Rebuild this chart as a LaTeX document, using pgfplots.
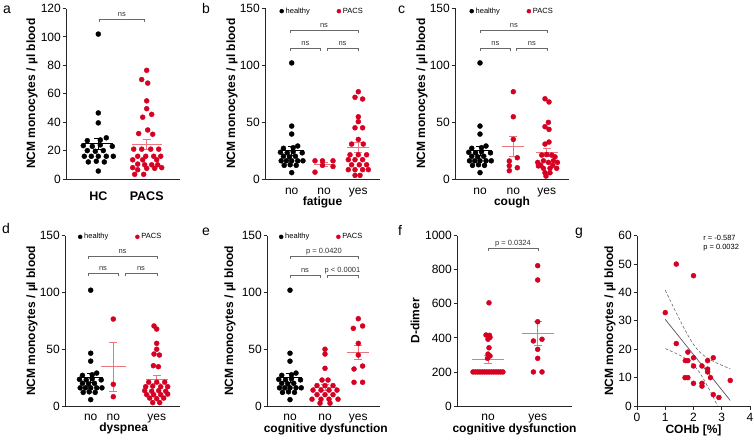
\documentclass[border=0pt]{standalone}
\usepackage{pgfplots}
\usepackage{pgfplotstable}
\pgfplotsset{compat=1.18}
\usepackage{fontspec}
\setmainfont{Liberation Sans}

\definecolor{ptred}{RGB}{214,0,34}
\definecolor{meanred}{RGB}{236,118,128}
\definecolor{brk}{RGB}{105,105,105}

% ---------- data: x offset within a group (px) and value ----------
\pgfplotstableread{
dx v
0 102
0 46.5
0 39.5
8 29
-11 27
2 27.5
-15 23.5
-6 23
2 24
14 23
-11 20
-3 19.5
5 20
-14 16
-7 16
0 16
8 16
15 16
-10 12
-2 12.5
6 12
0 5.6
}\healthy

\pgfplotstableread{
dx v
0 76.5
-5 70
1 67.5
0 55
0 49.5
5 45.5
-4 43.5
1 34.5
-8 32
6 31.5
-13 21
-5 21
4 21
12 21
-9 16
-1 16
7 16
14 16
-14 13.5
-4 13.5
10 13.5
-9 10.5
-2 10
5 10
11 10
-14 8
-9 6.5
0 7.5
8 7.5
15 8
-12 3.3
-3 3.3
}\pacsall

\pgfplotstableread{
dx v
-9 16
-9 6
-1.5 16
-1.5 12
9 16
9 11
}\fatno

\pgfplotstableread{
dx v
0 76.7
-3.3 71.8
4.3 70.3
0 54.7
0 50.4
-3.3 45
4.3 45
0 34.8
-6.7 30.7
5 30.7
-8.3 21.3
0 21.3
8.3 21.3
-10 17
-3.3 17
4.3 17
-6.7 12.5
1 12.5
8.3 12.5
-10 8.2
-3.3 8.2
4.3 8.2
10 8.2
-3.3 3.2
1.7 3.2
}\fatyes

\pgfplotstableread{
dx v
0 76.7
0 54.7
0 34.8
4 18.7
-4 15.8
-4 11.7
4 9.9
-4 7.3
}\coughno

\pgfplotstableread{
dx v
-1.7 70.5
2.3 67.7
1.7 49.8
-1.7 46
2.3 43.6
2.3 32.5
-1.7 30.7
-5 21
0 21.5
5 21
8.3 19.5
-9 14.6
-3.3 16
1.7 14.6
6.7 16
10.7 14.6
-6 12
6 12
-8.3 11.5
-3.3 9.4
3.3 9.4
10 9.4
-1.7 5.5
3.3 5.5
-0.7 2.6
}\coughyes

\pgfplotstableread{
dx v
0 76.6
0 19.1
0 8.2
}\dysno

\pgfplotstableread{
dx v
-2.7 70.5
0 67.8
0 55.2
0 50
-2.7 45.8
2.7 44.9
-3.3 35.5
1.7 34.6
-8 21
0 21
8 21
-11 17
-4 17.5
4 17
11 17
-12 13.5
-5 13
2 13.5
9 13
-10 10
-3 10
4 10
11 10.5
-7 7
0 6.5
7 7
-4 3
3 3
}\dysyes

\pgfplotstableread{
dx v
0 50
0 45.8
0 33.2
-3 22.9
3 22.9
-8 18
0 18
8 18
-12 14
-4 14
4 14
12 14
-8 10
0 10
8 10
-13 6
-4 6
4 6
13 6
-5 2.5
5 2.5
}\cogno

\pgfplotstableread{
dx v
0 76.9
-5 68.4
4.3 70.5
0 55.2
0 44.9
4.3 35.2
-4.3 32.6
-4.3 20.9
4.3 20.9
}\cogyes

\pgfplotstableread{
dx v
1 606
-2 417
1.5 415
2 403
0 392
1 342
0 305
2 294
-0.5 280
-15 200
-12.7 200
-10.4 200
-8.1 200
-5.8 200
-3.5 200
-1.2 200
1.1 200
3.4 200
5.7 200
8 200
10.3 200
12.6 200
14.9 200
}\ddno

\pgfplotstableread{
dx v
0 824
0 740
0 495
-4.3 382
4.3 392
0 333
0 280
-4.3 200
4.3 200
}\ddyes

\pgfplotstableread{
cohb ncm
1.39 50
2.0 45.9
1.0 32.9
1.39 22
1.8 19
2.0 17
2.7 17
1.71 16
1.8 16
2.5 16
2.0 14.1
2.3 14.1
2.5 13
2.5 12
2.6 10
1.7 10
1.8 10
2.0 8
2.3 8
2.3 7
3.3 9
2.7 4
2.9 3
}\cohb

% mean with SEM whiskers: centre, mean, sem, half width, colour
\newcommand{\msem}[5]{%
  \pgfmathsetmacro{\mxa}{#1-#4}\pgfmathsetmacro{\mxb}{#1+#4}%
  \pgfmathsetmacro{\mxc}{#1-4}\pgfmathsetmacro{\mxd}{#1+4}%
  \pgfmathsetmacro{\mya}{#2-#3}\pgfmathsetmacro{\myb}{#2+#3}%
  \addplot[#5, line width=0.8pt, forget plot] coordinates {(\mxa,#2) (\mxb,#2)};%
  \addplot[#5, line width=0.8pt, forget plot] coordinates {(#1,\mya) (#1,\myb)};%
  \addplot[#5, line width=0.8pt, forget plot] coordinates {(\mxc,\mya) (\mxd,\mya)};%
  \addplot[#5, line width=0.8pt, forget plot] coordinates {(\mxc,\myb) (\mxd,\myb)};%
}
% significance bracket: x1, x2, height, drop, label
\tikzset{brtext/.style={anchor=base, font=\fontsize{7.5}{8}\selectfont, text=black!80, inner sep=0pt},
  xlab/.style={anchor=base, inner sep=0pt, font=\bfseries\fontsize{12}{12}\selectfont}}
\newcommand{\bracket}[5]{%
  \pgfmathsetmacro{\bya}{#3-#4}\pgfmathsetmacro{\bxm}{(#1+#2)/2}%
  \pgfmathsetmacro{\byt}{#3+#4}%
  \addplot[brk, line width=0.6pt, forget plot] coordinates {(#1,\bya) (#1,#3) (#2,#3) (#2,\bya)};%
  \edef\brnode{\noexpand\node[brtext] at (axis cs:\bxm,\byt) {\unexpanded{#5}};}%
  \brnode
}

\pgfplotsset{
  panel/.style={
    scale only axis, clip=false, anchor=south west,
    axis x line*=bottom, axis y line*=left,
    axis line style={line width=0.9pt, black!85, -},
    tick style={line width=0.9pt, black!85},
    tick align=outside, major tick length=3.5pt,
    ymin=0, enlargelimits=false,
    ticklabel style={font=\fontsize{12}{12}\selectfont},
    yticklabel style={inner sep=1.5pt},
    /pgf/number format/assume math mode=true,
    /pgf/number format/1000 sep={},
    label style={font=\bfseries\fontsize{12}{12}\selectfont},
    ylabel style={anchor=center},
  },
  strip/.style={panel, xmin=0, x tick style={draw=none},
    xticklabel style={anchor=base}},
  hpts/.style={only marks, mark=*, mark size=2.5pt, black},
  rpts/.style={only marks, mark=*, mark size=2.5pt, ptred},
  leg/.style={
    legend style={draw=none, fill=none, inner sep=0pt, at={#1}, anchor=west,
      font=\fontsize{7.5}{8}\selectfont, legend columns=2,
      /tikz/every even column/.append style={column sep=25pt}},
    legend image code/.code={\draw[##1,mark size=2pt]
      plot coordinates {(2pt,0pt)};},
  },
}

\begin{document}
\begin{tikzpicture}
\path[use as bounding box] (0pt,0pt) rectangle (754pt,-440pt);

% panel letters
\foreach \lx/\ly/\lt in {3/13/a, 202/13/b, 398/13/c, 2/233/d, 202/235/e, 398/235/f, 575/235/g}
  \node[anchor=base west, inner sep=0pt, font=\fontsize{14}{14}\selectfont] at (\lx pt,-\ly pt) {\lt};

% ---------------- a ----------------
\begin{axis}[strip, at={(66pt,-179pt)}, width=114pt, height=170.5pt,
  xmax=114, ymax=120, ytick={0,20,...,120},
  xtick={32.3,80.7}, xticklabels={HC,PACS},
  xticklabel style={font=\bfseries\fontsize{12.5}{12}\selectfont, yshift=-17.7pt},
  ylabel={NCM monocytes / µl blood},
  ylabel style={at={(axis description cs:-0.298,0.5)}}]
\addplot[hpts] table[x expr=\thisrow{dx}+32.3, y=v] {\healthy};
\addplot[rpts] table[x expr=\thisrow{dx}+80.7, y=v] {\pacsall};
\msem{32.3}{24.8}{3.9}{15}{black}
\msem{80.7}{24.5}{3.7}{15}{meanred}
\bracket{33.3}{78.3}{112.4}{2.1}{ns}
\end{axis}

% ---------------- b ----------------
\begin{axis}[strip, leg={(axis cs:14.5,147.5)}, at={(265pt,-179pt)}, width=115pt, height=170.7pt,
  xmax=115, ymax=150, ytick={0,50,100,150},
  xtick={26.7,59,93.3}, xticklabels={no,no,yes},
  xticklabel style={yshift=-11.7pt},
  ylabel={NCM monocytes / µl blood},
  ylabel style={at={(axis description cs:-0.287,0.5)}}]
\addplot[hpts] table[x expr=0.75*\thisrow{dx}+26.7, y=v] {\healthy};
\addlegendentry{healthy}
\addplot[rpts] table[x expr=\thisrow{dx}+59, y=v] {\fatno};
\addlegendentry{PACS}
\addplot[rpts, forget plot] table[x expr=\thisrow{dx}+93.3, y=v] {\fatyes};
\msem{26.7}{24.8}{3.9}{12}{black}
\msem{59}{12.8}{1.8}{10}{meanred}
\msem{93.3}{28.1}{4.4}{11}{meanred}
\bracket{25}{93}{130.9}{2.6}{ns}
\bracket{25}{55.7}{115.1}{2.6}{ns}
\bracket{62}{93}{115.1}{2.6}{ns}
\node[xlab, yshift=-26.5pt] at (rel axis cs:0.5,0) {fatigue};
\end{axis}

% ---------------- c ----------------
\begin{axis}[strip, leg={(axis cs:14.5,147.5)}, at={(455pt,-179pt)}, width=114pt, height=170.7pt,
  xmax=114, ymax=150, ytick={0,50,100,150},
  xtick={25,58.3,91.7}, xticklabels={no,no,yes},
  xticklabel style={yshift=-11.7pt},
  ylabel={NCM monocytes / µl blood},
  ylabel style={at={(axis description cs:-0.289,0.5)}}]
\addplot[hpts] table[x expr=0.75*\thisrow{dx}+25, y=v] {\healthy};
\addlegendentry{healthy}
\addplot[rpts] table[x expr=\thisrow{dx}+58.3, y=v] {\coughno};
\addlegendentry{PACS}
\addplot[rpts, forget plot] table[x expr=\thisrow{dx}+91.7, y=v] {\coughyes};
\msem{25}{24.8}{3.9}{12}{black}
\msem{58.3}{28.7}{8.5}{11}{meanred}
\msem{91.7}{23.4}{3.7}{11}{meanred}
\bracket{25}{92.7}{130.9}{2.6}{ns}
\bracket{25}{55.7}{115.1}{2.6}{ns}
\bracket{61}{92.7}{115.1}{2.6}{ns}
\node[xlab, yshift=-26pt] at (rel axis cs:0.5,0) {cough};
\end{axis}

% ---------------- d ----------------
\begin{axis}[strip, leg={(axis cs:13,149)}, at={(65pt,-406pt)}, width=115pt, height=170.3pt,
  xmax=115, ymax=150, ytick={0,50,100,150},
  xtick={25.7,48.3,91.7}, xticklabels={no,no,yes},
  xticklabel style={yshift=-10.7pt},
  ylabel={NCM monocytes / µl blood},
  ylabel style={at={(axis description cs:-0.287,0.5)}}]
\addplot[hpts] table[x expr=0.75*\thisrow{dx}+25.7, y=v] {\healthy};
\addlegendentry{healthy}
\addplot[rpts] table[x expr=\thisrow{dx}+48.3, y=v] {\dysno};
\addlegendentry{PACS}
\addplot[rpts, forget plot] table[x expr=\thisrow{dx}+91.7, y=v] {\dysyes};
\msem{25.7}{24.8}{3.9}{12}{black}
\msem{48.3}{34.6}{21.6}{12.5}{meanred}
\msem{91.7}{23.4}{3.5}{11}{meanred}
\bracket{23}{92}{132.1}{2.6}{ns}
\bracket{23}{53}{116.9}{2.6}{ns}
\bracket{60}{92}{116.9}{2.6}{ns}
\node[xlab, yshift=-25pt] at (rel axis cs:0.51,0) {dyspnea};
\end{axis}

% ---------------- e ----------------
\begin{axis}[strip, leg={(axis cs:12,149)}, at={(267pt,-406pt)}, width=113pt, height=170.3pt,
  xmax=113, ymax=150, ytick={0,50,100,150},
  xtick={23,58,91.3}, xticklabels={no,no,yes},
  xticklabel style={yshift=-10.7pt},
  ylabel={NCM monocytes / µl blood},
  ylabel style={at={(axis description cs:-0.327,0.5)}}]
\addplot[hpts] table[x expr=0.75*\thisrow{dx}+23, y=v] {\healthy};
\addlegendentry{healthy}
\addplot[rpts] table[x expr=\thisrow{dx}+58, y=v] {\cogno};
\addlegendentry{PACS}
\addplot[rpts, forget plot] table[x expr=\thisrow{dx}+91.3, y=v] {\cogyes};
\msem{23}{24.8}{3.9}{12}{black}
\msem{58}{16.2}{2.4}{12}{meanred}
\msem{91.3}{47.3}{6.2}{11}{meanred}
\bracket{23}{91}{132.1}{2.6}{p = 0.0420}
\bracket{23}{53}{115.4}{2.6}{ns}
\bracket{60}{91}{115.4}{2.6}{p < 0.0001}
\node[xlab, yshift=-26.5pt] at (rel axis cs:0.52,0) {cognitive dysfunction};
\end{axis}

% ---------------- f ----------------
\begin{axis}[strip, at={(457pt,-406pt)}, width=115pt, height=170.3pt,
  xmax=115, ymax=1000, ytick={0,200,...,1000},
  xtick={31,80.7}, xticklabels={no,yes},
  xticklabel style={yshift=-10.7pt},
  ylabel={D-dimer},
  ylabel style={at={(axis description cs:-0.365,0.5)}}]
\addplot[rpts] table[x expr=\thisrow{dx}+31, y=v] {\ddno};
\addplot[rpts] table[x expr=\thisrow{dx}+80.7, y=v] {\ddyes};
\msem{31}{272}{24}{16}{meanred}
\msem{80.7}{427}{70}{16}{meanred}
\bracket{31}{81}{926}{15}{p = 0.0324}
\node[xlab, yshift=-26.5pt] at (rel axis cs:0.5,0) {cognitive dysfunction};
\end{axis}

% ---------------- g ----------------
\begin{axis}[panel, at={(637pt,-406pt)}, width=113pt, height=170.3pt,
  xmin=0, xmax=4, ymax=60, xtick={0,1,...,4}, ytick={0,10,...,60},
  ylabel={NCM monocytes / µl blood},
  ylabel style={at={(axis description cs:-0.239,0.5)}}]
\addplot[brk, line width=0.6pt, smooth, densely dashed] coordinates {
  (1.0,40.8)(1.2,36.68)(1.4,32.63)(1.6,28.68)(1.8,24.97)(2.0,21.71)(2.2,19.23)
  (2.4,17.53)(2.6,16.28)(2.8,15.27)(3.0,14.36)(3.3,13.11)};
\addplot[brk, line width=0.6pt, smooth, densely dashed] coordinates {
  (1.0,20.2)(1.2,19.36)(1.4,18.45)(1.6,17.44)(1.8,16.19)(2.0,14.49)(2.2,12.01)
  (2.4,8.75)(2.6,5.04)(2.8,1.09)(2.85,0.1)};
\addplot[brk!80!black, line width=0.7pt] coordinates {(1.0,30.5) (3.3,1.98)};
\addplot[rpts] table[x=cohb, y=ncm] {\cohb};
\node[anchor=base west, inner sep=0pt, align=left, font=\fontsize{7.5}{9}\selectfont]
  at (axis cs:2.34,55.2) {r = -0.587\\p = 0.0032};
\node[xlab, yshift=-27.6pt] at (rel axis cs:0.5,0) {COHb [\%]};
\end{axis}
\end{tikzpicture}
\end{document}
